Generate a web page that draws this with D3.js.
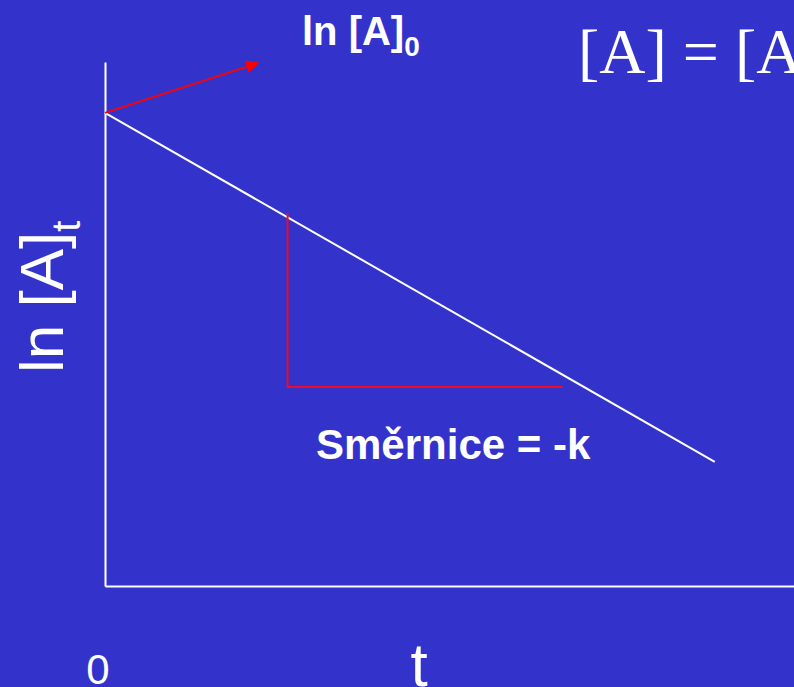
<!DOCTYPE html>
<html>
<head>
<meta charset="utf-8">
<script src="https://cdn.jsdelivr.net/npm/d3@7"></script>
<style>
  body { margin: 0; background: #3333cc; }
  svg { display: block; }
</style>
</head>
<body>
<svg id="chart"></svg>
<script>
var chart = d3.select("#chart");
var width = 794;
var height = 687;
var margin = { top: 62, right: 0, bottom: 101, left: 105 };

// ln[A] vs t, first-order kinetics (schematic)
var lineT = [0, 8.85];
var lineLnA = [9.03, 2.37];
// slope triangle
var slopeT = [2.65, 2.65, 6.64];
var slopeLnA = [7.12, 3.80, 3.80];
// arrow pointing to ln[A]0
var arrowT = [0, 2.22];
var arrowLnA = [9.03, 9.98];

chart.attr("width", width).attr("height", height);
chart.append("rect").attr("width", width).attr("height", height).attr("fill", "#3333cc");

const xScale = d3.scaleLinear()
	.domain([0, 10])
	.range([margin.left, width - margin.right]);
const yScale = d3.scaleLinear()
	.domain([0, 10])
	.range([height - margin.bottom, margin.top]);

var defs = chart.append("defs");
defs.append("marker")
	.attr("id", "arrowhead")
	.attr("viewBox", "0 0 10 10")
	.attr("refX", 9)
	.attr("refY", 5)
	.attr("markerWidth", 8.5)
	.attr("markerHeight", 6.5)
	.attr("markerUnits", "strokeWidth")
	.attr("orient", "auto")
	.append("path")
	.attr("d", "M0,0L10,5L0,10Z")
	.attr("fill", "#ff0000");

// axes (no ticks)
var xAxis = chart.append("g")
	.attr("transform", `translate(0, ${height - margin.bottom})`)
	.call(d3.axisBottom(xScale).ticks(0).tickSizeOuter(0));
var yAxis = chart.append("g")
	.attr("transform", `translate(${margin.left}, 0)`)
	.call(d3.axisLeft(yScale).ticks(0).tickSizeOuter(0));
[xAxis, yAxis].forEach(g => {
	g.select(".domain").attr("stroke", "#ffffff").attr("stroke-width", 2);
});

const line = d3.line()
	.x(d => xScale(d[0]))
	.y(d => yScale(d[1]));

chart.append("path")
	.datum(lineT.map((t, i) => [t, lineLnA[i]]))
	.attr("d", line)
	.attr("fill", "none")
	.attr("stroke", "#ffffff")
	.attr("stroke-width", 2);

chart.append("path")
	.datum(slopeT.map((t, i) => [t, slopeLnA[i]]))
	.attr("d", line)
	.attr("fill", "none")
	.attr("stroke", "#ee0a28")
	.attr("stroke-width", 2);

chart.append("path")
	.datum(arrowT.map((t, i) => [t, arrowLnA[i]]))
	.attr("d", line)
	.attr("fill", "none")
	.attr("stroke", "#ff0000")
	.attr("stroke-width", 2)
	.attr("marker-end", "url(#arrowhead)");

// labels
var lbl0 = chart.append("text")
	.attr("x", 302)
	.attr("y", 45)
	.attr("font-family", "Liberation Sans, Arial, sans-serif")
	.attr("font-weight", "bold")
	.attr("font-size", "40px")
	.attr("fill", "#ffffff")
	.text("ln [A]");
lbl0.append("tspan")
	.attr("dy", 11)
	.attr("font-size", "28px")
	.text("0");

var formula = chart.append("text")
	.attr("x", 578)
	.attr("y", 73)
	.attr("font-family", "Liberation Serif, Times New Roman, serif")
	.attr("font-size", "64px")
	.attr("fill", "#ffffff")
	.text("[A] = [A]");
formula.append("tspan").attr("dy", 14).attr("font-size", "40px").text("0");
formula.append("tspan").attr("dy", -14).text("e");
formula.append("tspan").attr("dy", -26).attr("font-size", "40px").text("-kt");

chart.append("text")
	.attr("x", 316)
	.attr("y", 459)
	.attr("font-family", "Liberation Sans, Arial, sans-serif")
	.attr("font-weight", "bold")
	.attr("font-size", "42px")
	.attr("fill", "#ffffff")
	.text("Směrnice = -k");

var ylab = chart.append("text")
	.attr("transform", "translate(63, 373) rotate(-90)")
	.attr("font-family", "Liberation Sans, Arial, sans-serif")
	.attr("font-size", "62px")
	.attr("fill", "#ffffff")
	.text("ln [A]");
ylab.append("tspan")
	.attr("dy", 17)
	.attr("font-size", "40px")
	.text("t");

chart.append("text")
	.attr("x", xScale(0) - 7)
	.attr("y", 684)
	.attr("text-anchor", "middle")
	.attr("font-family", "Liberation Sans, Arial, sans-serif")
	.attr("font-size", "42px")
	.attr("fill", "#ffffff")
	.text("0");

chart.append("text")
	.attr("x", 419)
	.attr("y", 686)
	.attr("text-anchor", "middle")
	.attr("font-family", "Liberation Sans, Arial, sans-serif")
	.attr("font-size", "62px")
	.attr("fill", "#ffffff")
	.text("t");
</script>
</body>
</html>
